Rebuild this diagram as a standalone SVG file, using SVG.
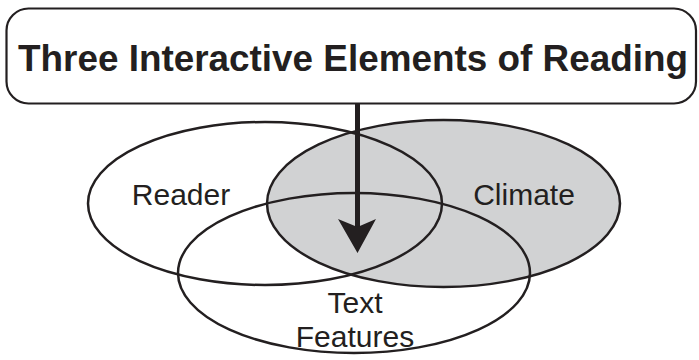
<svg xmlns="http://www.w3.org/2000/svg" width="699" height="360" viewBox="0 0 699 360">
<style>
.outline{fill:none;stroke:#231f20;stroke-width:2.5}
.lbl{font-family:"Liberation Sans",Arial,Helvetica,sans-serif;font-size:30px;fill:#231f20;text-anchor:middle}
.title{font-family:"Liberation Sans",Arial,Helvetica,sans-serif;font-size:37px;font-weight:bold;fill:#231f20}
</style>
<rect x="0" y="0" width="699" height="360" fill="#fff"/>
<g id="title-node">
<rect x="6.5" y="8.5" width="689.5" height="95" rx="22" ry="22" fill="#fff" stroke="#231f20" stroke-width="2.2"/>
<text class="title" x="18" y="70.5" textLength="670" lengthAdjust="spacingAndGlyphs">Three Interactive Elements of Reading</text>
</g>
<g id="climate-fill">
<ellipse cx="443.5" cy="203.5" rx="176.5" ry="83.5" fill="#d1d2d3"/>
</g>
<g id="reader">
<ellipse class="outline" cx="265" cy="203.5" rx="177" ry="81.5"/>
<text class="lbl" x="181" y="204.5">Reader</text>
</g>
<g id="climate">
<ellipse class="outline" cx="443.5" cy="203.5" rx="176.5" ry="83.5"/>
<text class="lbl" x="524" y="205">Climate</text>
</g>
<g id="text-features">
<ellipse class="outline" cx="354" cy="273" rx="176" ry="80"/>
<text class="lbl" x="355" y="313">Text</text>
<text class="lbl" x="355" y="347">Features</text>
</g>
<g id="connectors">
<line x1="357.5" y1="103.5" x2="357.5" y2="230" stroke="#231f20" stroke-width="5"/>
<path d="M357.5 253 L338 219 L357.5 227 L376 219 Z" fill="#231f20"/>
</g>
</svg>
